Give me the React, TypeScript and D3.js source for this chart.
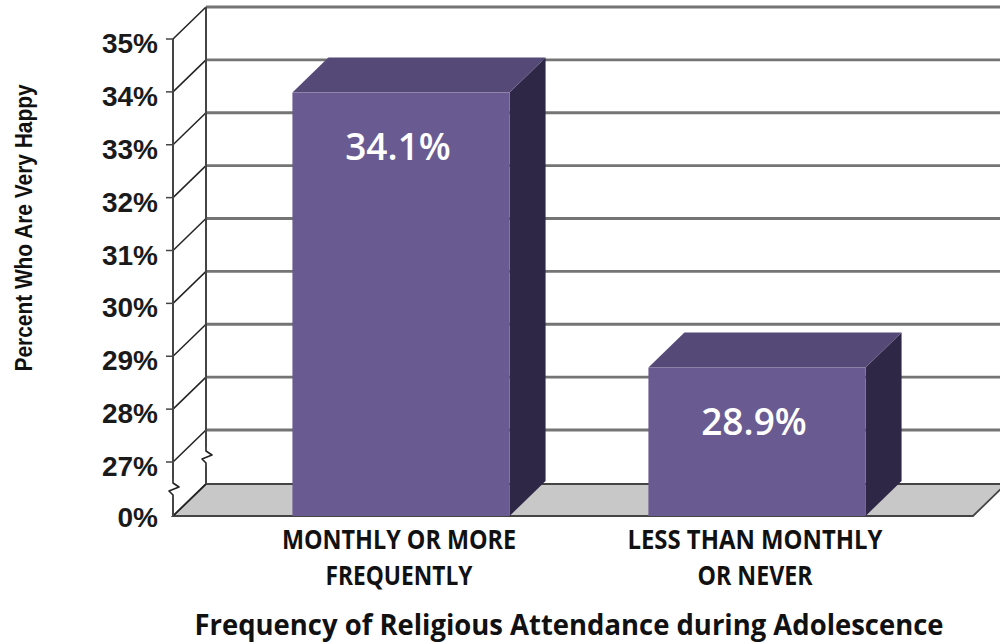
import React from 'react';
import * as d3 from 'd3';

// data
const categories = ['MONTHLY OR MORE|FREQUENTLY', 'LESS THAN MONTHLY|OR NEVER'];
const values = [34.1, 28.9];
const valueLabels = ['34.1%', '28.9%'];
const tickValues = [27, 28, 29, 30, 31, 32, 33, 34, 35];
const tickLabels = ['27%', '28%', '29%', '30%', '31%', '32%', '33%', '34%', '35%'];
const baseLabel = '0%';
const yTitle = 'Percent Who Are Very Happy';
const xTitle = 'Frequency of Religious Attendance during Adolescence';

// layout
const W = 1000;
const H = 644;
const left = 173;
const right = 973;
const top = 39;
const breakBottom = 462; // front position of 27%
const base = 516; // front position of 0%
const depth = { dx: 33, dy: -32 };
const barDepth = { dx: 36, dy: -35 };
const barShift = 6;

const catTextWidths: Record<string, number> = {
  'MONTHLY OR MORE': 234,
  FREQUENTLY: 147,
  'LESS THAN MONTHLY': 255,
  'OR NEVER': 115,
};

const colors = {
  front: '#695b91',
  top: '#554977',
  side: '#2e2746',
  floor: '#c8c8c8',
  grid: '#747474',
  axis: '#444',
};

function Squiggle({ x, y }: { x: number; y: number }) {
  const d = `M${x},${y - 10} L${x},${y - 6} L${x + 6},${y - 2} L${x - 4},${y + 2} L${x},${y + 6} L${x},${y + 10}`;
  return <path d={d} fill="none" stroke="#222" strokeWidth={1.6} strokeLinejoin="round" />;
}

export default function App() {
  const y = d3.scaleLinear().domain([27, 35]).range([breakBottom, top]);
  const x = d3.scaleBand<string>()
    .domain(categories)
    .range([223, 935])
    .paddingInner(0.39)
    .paddingOuter(0.195);

  const breakFront = (breakBottom + base) / 2;
  const backX = left + depth.dx;

  return (
    <svg width={W} height={H} style={{ position: 'absolute', left: 0, top: 0, background: '#fff' }}>
      {/* back wall gridlines */}
      {tickValues.map((t) => (
        <line key={'g' + t} x1={backX} x2={W + 20} y1={y(t) + depth.dy} y2={y(t) + depth.dy}
          stroke={colors.grid} strokeWidth={2.8} />
      ))}
      {/* floor */}
      <path
        d={`M${left},${base} L${right},${base} L${right + depth.dx},${base + depth.dy} L${backX},${base + depth.dy} Z`}
        fill={colors.floor} stroke={colors.axis} strokeWidth={1.8} />
      {/* side wall diagonals */}
      {tickValues.map((t) => (
        <line key={'d' + t} x1={left} y1={y(t)} x2={backX} y2={y(t) + depth.dy}
          stroke="#222" strokeWidth={1.5} />
      ))}
      <line x1={left} y1={base} x2={backX} y2={base + depth.dy} stroke="#222" strokeWidth={1.5} />
      {/* back wall edge with break */}
      <line x1={backX} y1={top + depth.dy} x2={backX} y2={breakFront + depth.dy - 10} stroke={colors.axis} strokeWidth={2} />
      <Squiggle x={backX} y={breakFront + depth.dy} />
      <line x1={backX} y1={breakFront + depth.dy + 10} x2={backX} y2={base + depth.dy} stroke={colors.axis} strokeWidth={2} />
      {/* front axis with break */}
      <line x1={left} y1={top} x2={left} y2={breakFront - 10} stroke={colors.axis} strokeWidth={2} />
      <Squiggle x={left} y={breakFront} />
      <line x1={left} y1={breakFront + 10} x2={left} y2={base} stroke={colors.axis} strokeWidth={2} />
      {/* ticks and labels */}
      {tickValues.map((t, i) => (
        <g key={'t' + t}>
          <line x1={left - 7} x2={left} y1={y(t)} y2={y(t)} stroke={colors.axis} strokeWidth={1.5} />
          <text x={158} y={y(t)} dy="0.5em" textAnchor="end" fontFamily="'Liberation Sans', Arial, sans-serif"
            fontWeight="bold" fontSize={28} fill="#1a1a1a">{tickLabels[i]}</text>
        </g>
      ))}
      <text x={158} y={base} dy="0.4em" textAnchor="end" fontFamily="'Liberation Sans', Arial, sans-serif"
        fontWeight="bold" fontSize={28} fill="#1a1a1a">{baseLabel}</text>

      {/* bars */}
      {categories.map((c, i) => {
        const x0 = x(c)!;
        const x1 = x0 + x.bandwidth();
        const yt = y(values[i]) + barShift;
        const { dx, dy } = barDepth;
        const cx = (x0 + x1) / 2 - 2;
        return (
          <g key={c}>
            <path d={`M${x1},${yt} L${x1 + dx},${yt + dy} L${x1 + dx},${base + dy} L${x1},${base} Z`} fill={colors.side} />
            <path d={`M${x0},${yt} L${x0 + dx},${yt + dy} L${x1 + dx},${yt + dy} L${x1},${yt} Z`} fill={colors.top} />
            <rect x={x0} y={yt} width={x1 - x0} height={base - yt} fill={colors.front} />
            <text x={(x0 + x1) / 2 - 3} y={yt + 67} textAnchor="middle" fontFamily="'Open Sans', sans-serif"
              fontWeight={600} fontSize={37} fill="#fff">{valueLabels[i]}</text>
            {c.split('|').map((line, j) => (
              <text key={line} x={cx} y={549 + j * 36} textAnchor="middle"
                fontFamily="'Open Sans', sans-serif" fontWeight="bold" fontSize={26}
                textLength={catTextWidths[line]} lengthAdjust="spacingAndGlyphs" fill="#111">{line}</text>
            ))}
          </g>
        );
      })}

      {/* axis titles */}
      <text transform="translate(32,228) rotate(-90)" textAnchor="middle"
        fontFamily="'Liberation Sans', Arial, sans-serif" fontWeight="bold" fontSize={23}
        textLength={287} lengthAdjust="spacingAndGlyphs" fill="#111">{yTitle}</text>
      <text x={569} y={635} textAnchor="middle" fontFamily="'Open Sans', sans-serif" fontWeight="bold"
        fontSize={29} textLength={749} lengthAdjust="spacingAndGlyphs" fill="#111">{xTitle}</text>
    </svg>
  );
}
